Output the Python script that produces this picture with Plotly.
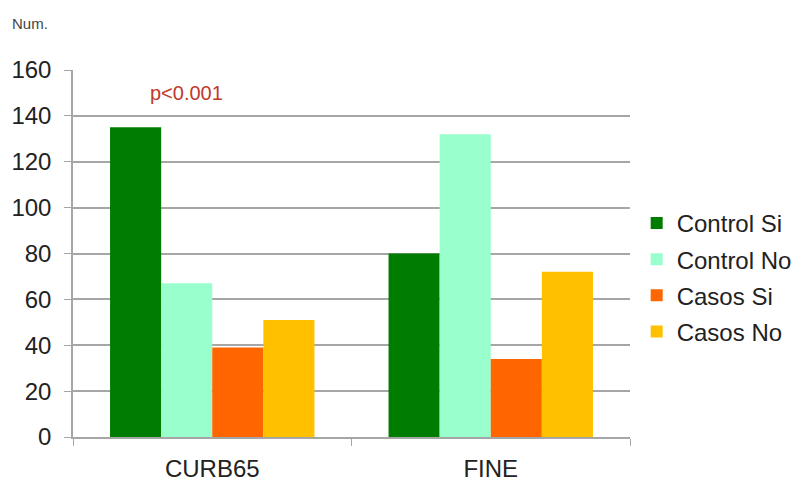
import plotly.graph_objects as go

categories = ["CURB65", "FINE"]
series_names = ["Control Si", "Control No", "Casos Si", "Casos No"]
control_si = [135, 80]
control_no = [67, 132]
casos_si = [39, 34]
casos_no = [51, 72]
colors = ["#007d00", "#99ffcc", "#ff6600", "#ffc000"]

fig = go.Figure()
for name, vals, col in zip(series_names, [control_si, control_no, casos_si, casos_no], colors):
    fig.add_trace(go.Bar(name=name, x=categories, y=vals, marker_color=col,
                         marker_line_width=0, legendgroup=name))

axis_gray = "#a6a6a6"
fig.update_layout(
    width=802, height=485,
    margin=dict(l=73, r=172, t=70, b=48, autoexpand=False),
    paper_bgcolor="white", plot_bgcolor="white",
    barmode="group", bargap=0.266, bargroupgap=0,
    font=dict(family="Liberation Sans, Arial, sans-serif", color="#222222"),
    legend=dict(x=1.012, y=0.435, xanchor="left", yanchor="middle",
                font=dict(size=24), itemwidth=30, tracegroupgap=2,
                traceorder="grouped", bgcolor="rgba(0,0,0,0)"),
    xaxis=dict(showline=True, linecolor=axis_gray, linewidth=1.5,
               ticks="outside", tickson="boundaries", ticklen=7, tickcolor=axis_gray,
               tickfont=dict(size=24), ticklabelstandoff=9, showgrid=False,
               automargin=False),
    yaxis=dict(range=[0, 160], dtick=20, showline=True, linecolor=axis_gray,
               linewidth=1.5, ticks="outside", ticklen=7, tickcolor=axis_gray,
               tickfont=dict(size=24), ticklabelstandoff=8,
               showgrid=True, gridcolor=axis_gray,
               gridwidth=1.5, zeroline=False, automargin=False),
    annotations=[
        dict(text="Num.", x=-0.113, y=1.128, xref="paper", yref="paper", showarrow=False,
             font=dict(size=15, color="#444444"), xanchor="left", yanchor="middle"),
        dict(text="p<0.001", x=0, y=150, xref="x", yref="y", showarrow=False,
             xshift=-26, font=dict(size=20, color="#c0392b"), xanchor="center"),
    ],
)

fig.write_html("out.html")
